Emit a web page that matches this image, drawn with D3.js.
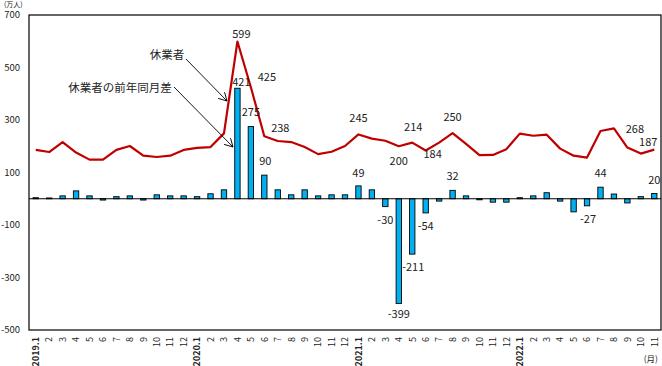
<!DOCTYPE html>
<html><head><meta charset="utf-8">
<script src="https://cdn.jsdelivr.net/npm/d3@7"></script>
<style>
html,body{margin:0;padding:0;background:#fff;}
svg{display:block;}
text{font-family:"Noto Sans CJK JP","Noto Sans",sans-serif;fill:#222;}
</style></head>
<body>
<svg id="chart" width="662" height="366"></svg>
<script>
// ---- data ----
const months = ["2019.1","2","3","4","5","6","7","8","9","10","11","12",
  "2020.1","2","3","4","5","6","7","8","9","10","11","12",
  "2021.1","2","3","4","5","6","7","8","9","10","11","12",
  "2022.1","2","3","4","5","6","7","8","9","10","11"];
const absentees = [186,178,216,176,149,149,186,201,164,159,164,186,
  194,197,249,599,425,238,220,216,197,170,179,201,
  245,229,221,200,214,184,214,250,209,166,167,189,
  248,240,244,191,164,157,258,268,195,172,187];
const yoyDiff = [4,3,11,30,11,-5,8,11,-5,15,11,11,
  8,19,34,421,275,90,34,15,34,11,15,15,
  49,34,-30,-399,-211,-54,-9,32,11,-4,-13,-13,
  4,11,23,-9,-50,-27,44,18,-16,8,20];
const yTicks = [700,500,300,100,-100,-300,-500];
const lineLabelIdx = [15,16,17,24,27,28,29,31,43,46];
const barLabelIdx = [15,16,17,24,26,27,28,29,31,41,42,46];

// ---- layout (label offsets in px, not data) ----
const lineLabelOff = {15:[4,-4],16:[16,-6],17:[16,-4],24:[0,-12],27:[0,19],28:[1,-12],29:[7,8],31:[0,-12],43:[21,5],46:[-6,-4]};
const barLabelOff = {15:[4,-2],16:[0,-11],17:[1,-10],24:[0,-9],26:[0,17],27:[0,15],28:[1,17],29:[0,17],31:[0,-10],41:[1,17],42:[0,-10],46:[0,-10]};

const svg = d3.select("#chart");
const L = 29, R = 661, T = 15, B = 330;
const keys = months.map((m,i)=>i);
const x = d3.scaleBand().domain(keys).range([L,R]).paddingInner(0.6).paddingOuter(0.3);
const y = d3.scaleLinear().domain([-500,700]).range([B,T]);
const cx = i => x(i) + x.bandwidth()/2;

// frame
svg.append("rect").attr("x",L).attr("y",T).attr("width",R-L).attr("height",B-T)
  .attr("fill","none").attr("stroke","#000").attr("stroke-width",1.2);

// y labels
svg.append("g").selectAll("text").data(yTicks).join("text")
  .attr("x",20).attr("y",d=>y(d)+3.2).attr("text-anchor","end")
  .attr("font-size",9.5).attr("font-family","Liberation Sans, Arial, sans-serif").text(d=>d);
svg.append("text").attr("x",4).attr("y",6.5).attr("font-size",7).text("(万人)");

// bars
svg.append("g").selectAll("rect").data(yoyDiff).join("rect")
  .attr("x",(d,i)=>x(i)).attr("width",x.bandwidth())
  .attr("y",d=>y(Math.max(0,d))).attr("height",d=>Math.abs(y(d)-y(0)))
  .attr("fill","#00B0F0").attr("stroke","#000").attr("stroke-width",0.9);

// zero line
svg.append("line").attr("x1",L).attr("x2",R).attr("y1",y(0)).attr("y2",y(0))
  .attr("stroke","#000").attr("stroke-width",1.2);

// line
svg.append("path").datum(absentees)
  .attr("d",d3.line().x((d,i)=>cx(i)).y(d=>y(d)))
  .attr("fill","none").attr("stroke","#C00000").attr("stroke-width",2.2).attr("stroke-linejoin","round");

// labels
svg.append("g").selectAll("text").data(lineLabelIdx).join("text")
  .attr("x",i=>cx(i)+lineLabelOff[i][0]).attr("y",i=>y(absentees[i])+lineLabelOff[i][1])
  .attr("text-anchor","middle").attr("font-size",11).text(i=>absentees[i]);
svg.append("g").selectAll("text").data(barLabelIdx).join("text")
  .attr("x",i=>cx(i)+barLabelOff[i][0]).attr("y",i=>y(yoyDiff[i])+barLabelOff[i][1])
  .attr("text-anchor","middle").attr("font-size",11).text(i=>yoyDiff[i]);

// x labels
svg.append("g").selectAll("text").data(months).join("text")
  .attr("transform",(d,i)=>`translate(${cx(i)+3.3},337) rotate(-90)`)
  .attr("text-anchor","end").attr("font-size",9)
  .attr("font-family","Liberation Sans, Arial, sans-serif")
  .attr("font-weight",d=>d.includes(".")?"bold":"normal").text(d=>d);
svg.append("text").attr("x",658).attr("y",362).attr("text-anchor","end").attr("font-size",8.5).text("(月)");

// annotations
const defs = svg.append("defs");
defs.append("marker").attr("id","arr").attr("viewBox","0 0 10 10").attr("refX",9).attr("refY",5)
  .attr("markerWidth",9).attr("markerHeight",9).attr("orient","auto").attr("markerUnits","userSpaceOnUse")
  .append("path").attr("d","M0,0 L9,5 L0,10").attr("fill","none").attr("stroke","#000").attr("stroke-width",1);
svg.append("text").attr("x",167).attr("y",59).attr("text-anchor","middle").attr("font-size",11.5).text("休業者");
svg.append("line").attr("x1",186).attr("y1",59).attr("x2",227).attr("y2",101)
  .attr("stroke","#000").attr("stroke-width",0.9).attr("marker-end","url(#arr)");
svg.append("text").attr("x",120).attr("y",92).attr("text-anchor","middle").attr("font-size",11.5).text("休業者の前年同月差");
svg.append("line").attr("x1",174).attr("y1",87).attr("x2",233).attr("y2",147)
  .attr("stroke","#000").attr("stroke-width",0.9).attr("marker-end","url(#arr)");
</script>
</body></html>
